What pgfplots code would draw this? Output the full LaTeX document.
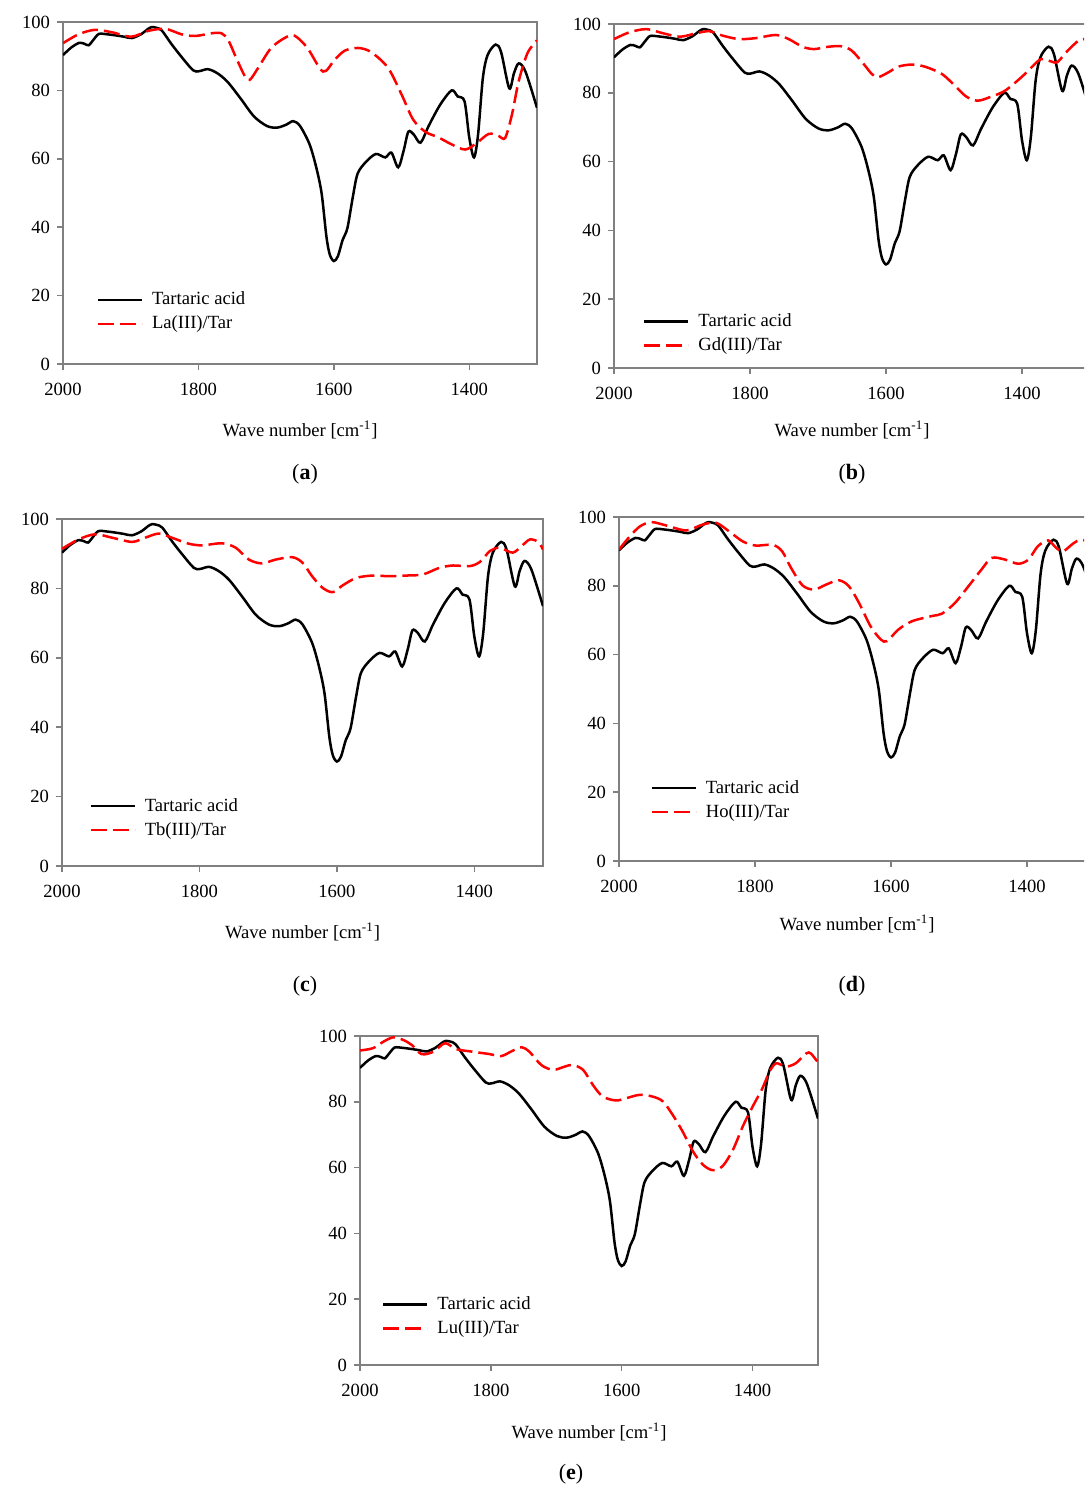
\documentclass[border=0pt]{standalone}
\usepackage{fontspec}
\setmainfont{Liberation Serif}
\usepackage{pgfplots}
\usepackage{pgfplotstable}
\pgfplotsset{compat=1.18}
\newcommand{\fs}{\fontsize{9.3pt}{11pt}\selectfont}

\pgfplotstableread{
w t
2000 90.3
1988 92.5
1976 93.9
1968 93.6
1962 93.2
1955 94.8
1947 96.5
1935 96.4
1923 96.1
1910 95.7
1898 95.3
1884 96.5
1875 97.9
1869 98.5
1862 98.3
1854 97.5
1840 93.6
1825 89.8
1808 85.9
1799 85.6
1786 86.2
1772 85.0
1757 82.5
1738 77.7
1718 72.4
1699 69.6
1684 69.1
1670 70.0
1660 71.0
1650 69.6
1636 64.3
1626 57.5
1618 49.8
1611 37.3
1606 32.0
1600 30.1
1594 31.5
1587 36.3
1580 39.7
1572 48.8
1565 55.6
1553 59.0
1538 61.4
1524 60.4
1515 61.8
1505 57.5
1497 62.3
1490 67.9
1482 67.1
1472 64.7
1460 69.6
1443 75.8
1426 80.0
1417 78.2
1407 76.8
1400 66.2
1393 60.4
1387 67.1
1380 83.5
1373 90.3
1361 93.4
1353 91.2
1341 80.6
1334 85.0
1327 87.9
1317 85.5
1300 74.9
}\tartaric

\pgfplotstableread{
w t
2000 93.8
1977 96.4
1953 97.7
1928 97.0
1899 95.7
1874 97.4
1849 98.0
1825 96.4
1805 95.9
1780 96.7
1766 96.7
1756 94.7
1744 89.4
1731 84.0
1724 83.1
1712 86.5
1693 92.3
1672 95.4
1658 96.0
1639 92.4
1616 85.5
1599 88.9
1584 91.6
1564 92.4
1545 91.2
1520 86.6
1500 78.8
1483 71.5
1465 67.9
1446 66.3
1426 64.2
1406 62.7
1389 64.6
1371 67.3
1356 66.6
1347 66.1
1337 72.9
1327 82.7
1314 90.9
1300 94.6
}\la

\pgfplotstableread{
w t
2000 95.6
1977 97.6
1952 98.5
1928 97.3
1903 96.3
1879 97.3
1860 97.9
1840 96.6
1816 95.6
1791 95.9
1762 96.8
1743 95.6
1723 93.4
1706 92.7
1684 93.4
1665 93.5
1650 92.2
1633 88.4
1621 85.5
1612 84.5
1596 86.0
1582 87.6
1562 88.2
1543 87.6
1518 85.5
1499 82.1
1482 78.9
1465 77.7
1445 78.9
1425 80.6
1401 84.5
1386 87.4
1372 89.8
1357 89.1
1348 88.9
1333 92.2
1318 95.0
1310 95.6
1300 95.0
}\gd

\pgfplotstableread{
w t
2000 91.4
1976 94.1
1952 95.6
1927 94.6
1898 93.4
1879 94.6
1859 95.8
1840 94.6
1816 92.9
1796 92.4
1767 93.0
1747 91.7
1728 88.3
1709 87.2
1689 88.3
1665 89.0
1650 87.4
1636 83.5
1621 80.2
1606 78.9
1592 80.8
1572 83.0
1548 83.7
1524 83.5
1499 83.7
1475 84.0
1451 85.9
1431 86.6
1407 86.4
1392 87.6
1377 90.8
1363 91.7
1344 90.3
1330 92.4
1319 94.1
1307 93.4
1300 91.2
}\tb

\pgfplotstableread{
w t
2000 90.5
1984 94.4
1969 97.3
1952 98.5
1930 97.5
1901 96.1
1877 97.8
1857 98.3
1838 95.8
1818 92.9
1799 91.7
1774 91.9
1760 90.0
1747 85.2
1730 80.1
1713 78.9
1696 80.3
1677 81.6
1662 79.9
1647 75.0
1630 68.2
1615 64.4
1606 63.9
1589 67.3
1569 69.7
1540 71.2
1525 71.9
1506 75.0
1486 79.9
1467 84.7
1452 88.1
1432 87.6
1413 86.4
1398 87.6
1384 91.5
1369 93.2
1357 91.0
1347 90.0
1332 92.3
1320 93.4
1300 92.0
}\ho

\pgfplotstableread{
w t
2000 95.6
1980 96.3
1964 98.3
1949 99.6
1934 98.8
1921 97.3
1906 94.5
1888 95.2
1870 97.8
1853 96.0
1827 95.2
1802 94.5
1784 93.9
1766 95.6
1753 96.6
1741 95.2
1723 91.2
1705 89.7
1687 90.7
1675 91.2
1659 89.7
1644 85.1
1629 81.6
1609 80.4
1593 81.1
1573 82.1
1553 81.6
1537 80.1
1522 76.0
1507 71.0
1491 64.9
1476 60.9
1461 59.2
1446 60.4
1430 65.4
1415 72.5
1400 78.5
1385 84.1
1374 89.2
1364 91.7
1349 90.7
1334 91.7
1318 94.7
1311 94.7
1301 92.2
}\lu

\pgfplotsset{
  ftir/.style={
    scale only axis,
    anchor=south west,
    x dir=reverse,
    xmin=1300, xmax=2000, ymin=0, ymax=100,
    xtick={1400,1600,1800,2000},
    ytick={0,20,40,60,80,100},
    axis line style={draw=gray, line width=0.75pt},
    tick style={draw=gray, line width=0.75pt},
    tick align=outside, xtick pos=bottom, ytick pos=left,
    major tick length=3pt,
    /pgf/number format/1000 sep={},
    /pgf/number format/assume math mode=true,
    tick label style={font=\fs, text=black},
    xticklabel style={yshift=-2.8pt},
    label style={font=\fs},
    xlabel={Wave number [cm\textsuperscript{-1}]},
    legend cell align=left,
    legend style={draw=none, fill=none, font=\fs, anchor=west,
      inner sep=0pt, row sep=0pt,
      nodes={inner sep=1.5pt, text height=7pt, text depth=2pt},
      /tikz/every odd column/.append style={column sep=3pt}},
    legend image code/.code={\draw[##1] (0pt,0pt) -- (22pt,0pt);},
    clip=true,
  },
  blk/.style={black, line width=1.25pt, smooth},
  rd/.style={red, line width=1.25pt, smooth, dash pattern=on 8pt off 3pt},
}

\begin{document}
\begin{tikzpicture}[font=\fs]
\useasboundingbox (0,0) rectangle (542pt,745.5pt);
\clip (0,0) rectangle (542pt,745.5pt);

% (a)
\begin{axis}[ftir, at={(31.5pt,563.5pt)}, width=237pt, height=171pt,
  xlabel style={at={(axis description cs:0.5,0)}, anchor=center, yshift=-33pt},
  legend style={at={(0.07,0.152)}}]
\addplot[blk] table[x=w,y=t] {\tartaric};
\addplot[rd] table[x=w,y=t] {\la};
\legend{Tartaric acid, La(III)/Tar}
\node[anchor=east, font=\fs] at (axis description cs:0,0.905) [xshift=-12.5pt] {\%T};
\end{axis}

% (b)
\begin{axis}[ftir, at={(307pt,561.5pt)}, width=238pt, height=172pt,
  xlabel style={at={(axis description cs:0.5,0)}, anchor=center, yshift=-31pt},
  legend style={at={(0.06,0.1)}}]
\addplot[blk] table[x=w,y=t] {\tartaric};
\addplot[rd] table[x=w,y=t] {\gd};
\legend{Tartaric acid, Gd(III)/Tar}
\node[anchor=east, font=\fs] at (axis description cs:0,0.9) [xshift=-12.5pt] {\%T};
\end{axis}

% (c)
\begin{axis}[ftir, at={(31pt,312.5pt)}, width=240.5pt, height=173.5pt,
  xlabel style={at={(axis description cs:0.5,0)}, anchor=center, yshift=-33pt},
  legend style={at={(0.056,0.138)}}]
\addplot[blk] table[x=w,y=t] {\tartaric};
\addplot[rd] table[x=w,y=t] {\tb};
\legend{Tartaric acid, Tb(III)/Tar}
\node[anchor=east, font=\fs] at (axis description cs:0,0.905) [xshift=-12.5pt] {\%T};
\end{axis}

% (d)
\begin{axis}[ftir, at={(309.5pt,315pt)}, width=238pt, height=172pt,
  xlabel style={at={(axis description cs:0.5,0)}, anchor=center, yshift=-31.5pt},
  legend style={at={(0.065,0.177)}}]
\addplot[blk] table[x=w,y=t] {\tartaric};
\addplot[rd] table[x=w,y=t] {\ho};
\legend{Tartaric acid, Ho(III)/Tar}
\node[anchor=east, font=\fs] at (axis description cs:0,0.9) [xshift=-12.5pt] {\%T};
\end{axis}

% (e)
\begin{axis}[ftir, at={(180pt,63pt)}, width=229pt, height=164.5pt,
  xlabel style={at={(axis description cs:0.5,0)}, anchor=center, yshift=-33.5pt},
  legend style={at={(0.047,0.147)}}]
\addplot[blk] table[x=w,y=t] {\tartaric};
\addplot[rd] table[x=w,y=t] {\lu};
\legend{Tartaric acid, Lu(III)/Tar}
\node[anchor=east, font=\fs] at (axis description cs:0,0.909) [xshift=-12.5pt] {\%T};
\end{axis}

\node[font=\fontsize{11pt}{13pt}\selectfont] at (152.5pt,508.5pt) {(\textbf{a})};
\node[font=\fontsize{11pt}{13pt}\selectfont] at (426pt,508.5pt) {(\textbf{b})};
\node[font=\fontsize{11pt}{13pt}\selectfont] at (152.5pt,252.5pt) {(\textbf{c})};
\node[font=\fontsize{11pt}{13pt}\selectfont] at (426pt,252.5pt) {(\textbf{d})};
\node[font=\fontsize{11pt}{13pt}\selectfont] at (285.5pt,8.5pt) {(\textbf{e})};
\end{tikzpicture}
\end{document}
